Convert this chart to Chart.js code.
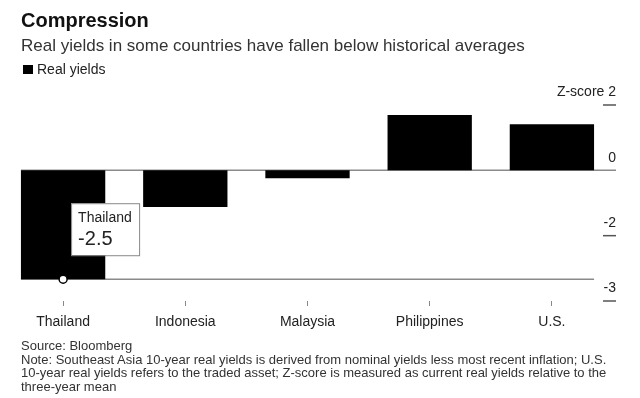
<!DOCTYPE html>
<html>
<head>
<meta charset="utf-8">
<script src="https://cdn.jsdelivr.net/npm/chart.js@4.4.1/dist/chart.umd.min.js"></script>
<style>
  html, body { margin: 0; padding: 0; background: #fff; }
  body { width: 640px; height: 398px; overflow: hidden; position: relative;
         font-family: "Liberation Sans", Arial, Helvetica, sans-serif; }
  #chart { position: absolute; left: 0; top: 0; }
  .txt { position: absolute; left: 21px; white-space: nowrap; }
  #title { top: 10px; font-size: 20px; line-height: 20px; font-weight: bold; color: #111; }
  #subtitle { top: 37px; font-size: 17px; line-height: 17px; color: #333; }
  #legendBox { position: absolute; left: 23px; top: 65px; width: 10px; height: 9px; background: #000; }
  #legendText { left: 37px; top: 62px; font-size: 14px; line-height: 14px; color: #222; }
  #footer { top: 339px; font-size: 13px; line-height: 13.7px; color: #333; }
</style>
</head>
<body>
<canvas id="chart" width="640" height="398"></canvas>
<div class="txt" id="title">Compression</div>
<div class="txt" id="subtitle">Real yields in some countries have fallen below historical averages</div>
<div id="legendBox"></div>
<div class="txt" id="legendText">Real yields</div>
<div class="txt" id="footer">Source: Bloomberg<br>Note: Southeast Asia 10-year real yields is derived from nominal yields less most recent inflation; U.S.<br>10-year real yields refers to the traded asset; Z-score is measured as current real yields relative to the<br>three-year mean</div>
<script>
// ---- data ----
const categories = ["Thailand", "Indonesia", "Malaysia", "Philippines", "U.S."];
const realYields = [-2.5, -0.84, -0.18, 1.27, 1.06];
// axis ticks (labels shown rounded to whole numbers, as in the original)
const yTickValues = [1.5, 0, -1.5, -3];
const yAxisTitle = "Z-score";
const annotatedIndex = 0;

Chart.defaults.font.family = '"Liberation Sans", Arial, Helvetica, sans-serif';
Chart.defaults.color = '#222';

const refLines = {
  id: 'refLines',
  beforeDatasetsDraw(chart) {
    const { ctx, scales: { y } } = chart;
    const bars = chart.getDatasetMeta(0).data;
    const first = bars[0], last = bars[bars.length - 1];
    const left = first.x - first.width / 2;
    const right = last.x + last.width / 2;
    ctx.save();
    ctx.strokeStyle = '#8a8a8a';
    ctx.lineWidth = 1.5;
    const y0 = y.getPixelForValue(0);
    ctx.beginPath(); ctx.moveTo(left, y0); ctx.lineTo(616, y0); ctx.stroke();
    const yMinData = y.getPixelForValue(Math.min(...realYields));
    ctx.beginPath(); ctx.moveTo(left, yMinData); ctx.lineTo(right, yMinData); ctx.stroke();
    ctx.strokeStyle = '#555';
    ctx.lineWidth = 1.5;
    y.ticks.forEach(t => {
      if (t.value === 0) return;
      const py = y.getPixelForValue(t.value);
      ctx.beginPath(); ctx.moveTo(603, py); ctx.lineTo(616, py); ctx.stroke();
    });
    ctx.restore();
  },
  afterDatasetsDraw(chart) {
    const { ctx } = chart;
    const bar = chart.getDatasetMeta(0).data[annotatedIndex];
    const px = bar.x, py = bar.y;
    const bx = px + 8, by = py - 76, bw = 68, bh = 52;
    ctx.save();
    ctx.fillStyle = '#fff';
    ctx.strokeStyle = '#888';
    ctx.lineWidth = 1;
    ctx.fillRect(bx, by, bw, bh);
    ctx.strokeRect(bx + 0.5, by + 0.5, bw, bh);
    ctx.fillStyle = '#222';
    ctx.textBaseline = 'alphabetic';
    ctx.textAlign = 'left';
    ctx.font = '14px "Liberation Sans", Arial, sans-serif';
    ctx.fillText(categories[annotatedIndex], bx + 7, by + 19);
    ctx.font = '20px "Liberation Sans", Arial, sans-serif';
    ctx.fillText(String(realYields[annotatedIndex]), bx + 7, by + 42);
    ctx.beginPath();
    ctx.arc(px, py, 4, 0, Math.PI * 2);
    ctx.fillStyle = '#fff';
    ctx.fill();
    ctx.strokeStyle = '#000';
    ctx.lineWidth = 1.5;
    ctx.stroke();
    ctx.restore();
  }
};

new Chart(document.getElementById('chart'), {
  type: 'bar',
  data: {
    labels: categories,
    datasets: [{
      label: 'Real yields',
      data: realYields,
      backgroundColor: '#000',
      borderWidth: 0,
      barPercentage: 0.69,
      categoryPercentage: 1.0
    }]
  },
  options: {
    responsive: false,
    animation: false,
    devicePixelRatio: 1,
    layout: { padding: { top: 105, left: 2, right: 0, bottom: 67 } },
    plugins: { legend: { display: false }, tooltip: { enabled: false } },
    scales: {
      x: {
        grid: { display: true, drawOnChartArea: false, drawTicks: true, tickLength: 5,
                tickColor: '#888', tickWidth: 1, offset: false },
        border: { display: false },
        ticks: { font: { size: 14 }, color: '#222', padding: 8, maxRotation: 0 },
        afterFit(s) { s.height = 30; }
      },
      y: {
        position: 'right',
        min: Math.min(...yTickValues),
        max: Math.max(...yTickValues),
        grid: { display: false },
        border: { display: false },
        afterBuildTicks(s) { s.ticks = yTickValues.map(v => ({ value: v })); },
        afterFit(s) { s.width = 27; },
        ticks: {
          mirror: true,
          padding: 3,
          crossAlign: 'near',
          labelOffset: -12.5,
          font: { size: 14 },
          color: '#222',
          callback: v => {
            const txt = Number(v).toFixed(0);
            return v === Math.max(...yTickValues) ? yAxisTitle + ' ' + txt : txt;
          }
        }
      }
    }
  },
  plugins: [refLines]
});
</script>
</body>
</html>
